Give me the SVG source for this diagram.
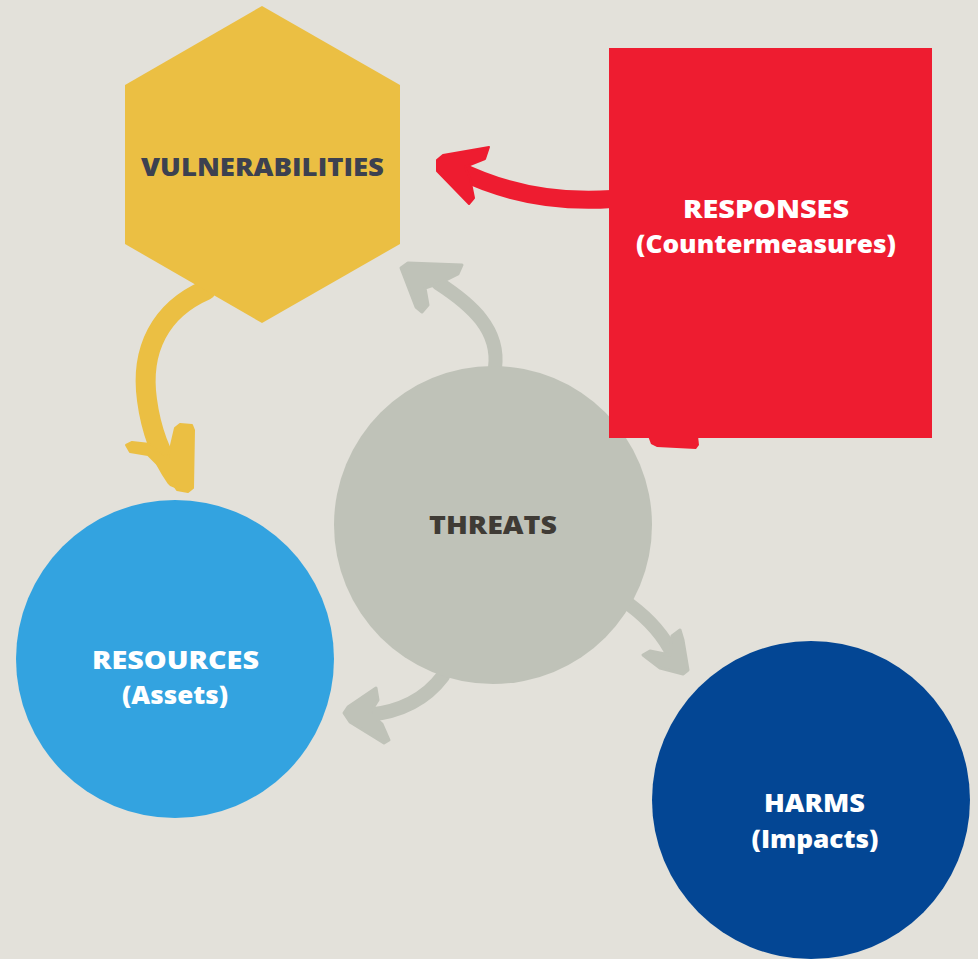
<svg xmlns="http://www.w3.org/2000/svg" width="978" height="959" viewBox="0 0 978 959">
<style>
.lbl{font-family:"Open Sans","Liberation Sans",sans-serif;font-weight:800;font-size:25px;text-anchor:middle}
.w{fill:#ffffff}
.gs{fill:none;stroke:#BFC2B8;stroke-width:14;stroke-linecap:round}
.gh{fill:#BFC2B8;stroke:#BFC2B8;stroke-width:3;stroke-linejoin:round}
</style>
<rect width="978" height="959" fill="#E3E1DA"/>
<g id="connectors">
  <path d="M206,290 C160,310 140,350 147,400 C151,430 160,455 176,478" fill="none" stroke="#EBBF43" stroke-width="20" stroke-linecap="round"/>
  <polygon points="126,445 132,442 150,444 168,458 175,428 180,424 192,425 194,430 193,488 188,492 177,490 165,472 148,455 130,452" fill="#EBBF43" stroke="#EBBF43" stroke-width="2" stroke-linejoin="round"/>
  <path d="M612,199 C555,203 505,193 458,170" fill="none" stroke="#EE1C30" stroke-width="18"/>
  <polygon points="437,160 443,155 489,147 485,159 465,167 470,178 474,198 469,204 437,171" fill="#EE1C30" stroke="#EE1C30" stroke-width="2" stroke-linejoin="round"/>
  <path d="M495,368 C500,330 472,305 438,283" class="gs"/>
  <polygon points="401,268 408,263 462,265 458,274 440,283 425,288 428,305 422,312 416,307" class="gh"/>
  <path d="M630,605 C650,620 664,636 673,655" class="gs"/>
  <polygon points="643,655 650,651 670,655 672,636 680,630 683,640 688,670 683,674 660,668" class="gh"/>
  <path d="M443,676 C425,700 400,712 368,715" class="gs"/>
  <polygon points="344,713 348,707 376,688 378,700 370,713 382,724 389,740 384,743 350,722" class="gh"/>
</g>
<g id="vulnerabilities">
  <polygon points="262,6 400,85 400,244 262,323 125,244 125,85" fill="#EBBF43"/>
  <text x="262.5" y="176" class="lbl" fill="#3C4150" font-size="26" textLength="243" lengthAdjust="spacingAndGlyphs">VULNERABILITIES</text>
</g>
<g id="threats">
  <circle cx="493" cy="525" r="159" fill="#BFC2B8"/>
  <text x="493" y="534" class="lbl" fill="#3F3B35" font-size="24" textLength="128" lengthAdjust="spacingAndGlyphs">THREATS</text>
</g>
<g id="resources">
  <circle cx="175" cy="659" r="159" fill="#33A3E0"/>
  <text x="175.5" y="669" class="lbl w" textLength="167" lengthAdjust="spacingAndGlyphs">RESOURCES</text>
  <text x="175" y="704" class="lbl w" textLength="106" lengthAdjust="spacingAndGlyphs">(Assets)</text>
</g>
<g id="harms">
  <circle cx="811" cy="800" r="159" fill="#034694"/>
  <text x="814.5" y="812" class="lbl w" textLength="101" lengthAdjust="spacingAndGlyphs">HARMS</text>
  <text x="815" y="848" class="lbl w" textLength="127" lengthAdjust="spacingAndGlyphs">(Impacts)</text>
</g>
<g id="responses">
  <polygon points="648,436 698,436 699,445 696,449 657,447 651,444" fill="#EE1C30"/>
  <rect x="609" y="48" width="323" height="390" fill="#EE1C30"/>
  <text x="766" y="218" class="lbl w" textLength="166" lengthAdjust="spacingAndGlyphs">RESPONSES</text>
  <text x="766" y="253" class="lbl w" textLength="260" lengthAdjust="spacingAndGlyphs">(Countermeasures)</text>
</g>
</svg>
